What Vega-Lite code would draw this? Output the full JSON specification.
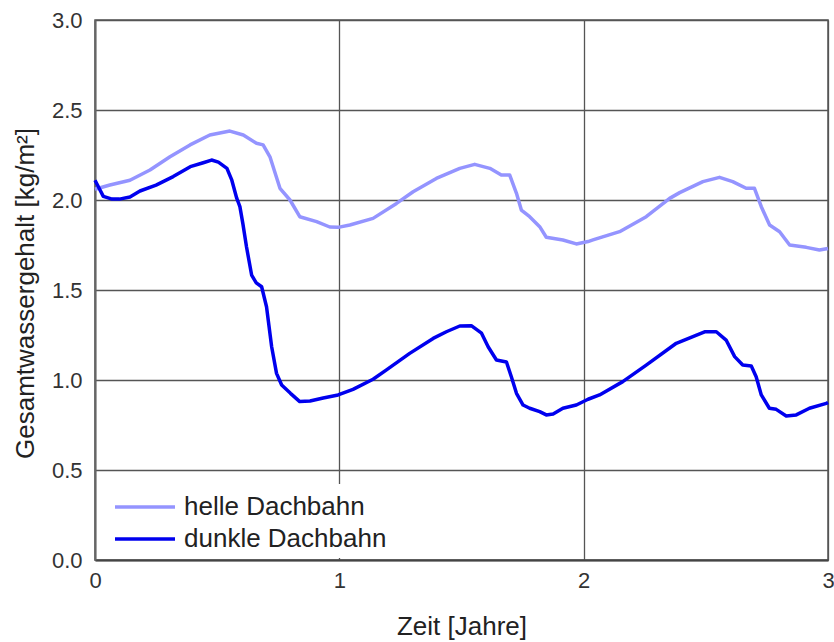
{
  "$schema": "https://vega.github.io/schema/vega-lite/v6.json",
  "autosize": {"type": "none"},
  "padding": {"left": 95, "top": 20, "right": 6, "bottom": 82},
  "width": 733,
  "height": 540,
  "background": "white",
  "config": {
    "font": "Liberation Sans",
    "view": {"stroke": "#555", "strokeWidth": 1.5},
    "axis": {"labelFont": "Liberation Sans", "titleFont": "Liberation Sans", "labelColor": "#333", "titleColor": "#222", "titleFontWeight": "normal", "gridColor": "#555", "gridWidth": 1.3, "gridOpacity": 1, "tickSize": 0, "domainColor": "#444", "domainWidth": 2},
    "legend": {"labelFont": "Liberation Sans"}
  },
  "data": {"values": [
    {"t": 0, "v": 2.06, "s": "helle Dachbahn"},
    {"t": 0.061, "v": 2.083, "s": "helle Dachbahn"},
    {"t": 0.143, "v": 2.11, "s": "helle Dachbahn"},
    {"t": 0.225, "v": 2.167, "s": "helle Dachbahn"},
    {"t": 0.307, "v": 2.24, "s": "helle Dachbahn"},
    {"t": 0.389, "v": 2.306, "s": "helle Dachbahn"},
    {"t": 0.47, "v": 2.361, "s": "helle Dachbahn"},
    {"t": 0.552, "v": 2.383, "s": "helle Dachbahn"},
    {"t": 0.607, "v": 2.361, "s": "helle Dachbahn"},
    {"t": 0.661, "v": 2.315, "s": "helle Dachbahn"},
    {"t": 0.688, "v": 2.306, "s": "helle Dachbahn"},
    {"t": 0.716, "v": 2.24, "s": "helle Dachbahn"},
    {"t": 0.757, "v": 2.065, "s": "helle Dachbahn"},
    {"t": 0.798, "v": 2.0, "s": "helle Dachbahn"},
    {"t": 0.838, "v": 1.907, "s": "helle Dachbahn"},
    {"t": 0.907, "v": 1.88, "s": "helle Dachbahn"},
    {"t": 0.961, "v": 1.85, "s": "helle Dachbahn"},
    {"t": 0.995, "v": 1.848, "s": "helle Dachbahn"},
    {"t": 1.043, "v": 1.861, "s": "helle Dachbahn"},
    {"t": 1.138, "v": 1.898, "s": "helle Dachbahn"},
    {"t": 1.234, "v": 1.981, "s": "helle Dachbahn"},
    {"t": 1.302, "v": 2.046, "s": "helle Dachbahn"},
    {"t": 1.397, "v": 2.12, "s": "helle Dachbahn"},
    {"t": 1.493, "v": 2.176, "s": "helle Dachbahn"},
    {"t": 1.554, "v": 2.198, "s": "helle Dachbahn"},
    {"t": 1.616, "v": 2.176, "s": "helle Dachbahn"},
    {"t": 1.663, "v": 2.139, "s": "helle Dachbahn"},
    {"t": 1.697, "v": 2.139, "s": "helle Dachbahn"},
    {"t": 1.725, "v": 2.037, "s": "helle Dachbahn"},
    {"t": 1.745, "v": 1.944, "s": "helle Dachbahn"},
    {"t": 1.779, "v": 1.907, "s": "helle Dachbahn"},
    {"t": 1.82, "v": 1.852, "s": "helle Dachbahn"},
    {"t": 1.847, "v": 1.793, "s": "helle Dachbahn"},
    {"t": 1.915, "v": 1.778, "s": "helle Dachbahn"},
    {"t": 1.97, "v": 1.756, "s": "helle Dachbahn"},
    {"t": 2.018, "v": 1.769, "s": "helle Dachbahn"},
    {"t": 2.038, "v": 1.778, "s": "helle Dachbahn"},
    {"t": 2.147, "v": 1.824, "s": "helle Dachbahn"},
    {"t": 2.256, "v": 1.907, "s": "helle Dachbahn"},
    {"t": 2.352, "v": 2.009, "s": "helle Dachbahn"},
    {"t": 2.393, "v": 2.041, "s": "helle Dachbahn"},
    {"t": 2.488, "v": 2.102, "s": "helle Dachbahn"},
    {"t": 2.556, "v": 2.126, "s": "helle Dachbahn"},
    {"t": 2.61, "v": 2.102, "s": "helle Dachbahn"},
    {"t": 2.665, "v": 2.065, "s": "helle Dachbahn"},
    {"t": 2.699, "v": 2.065, "s": "helle Dachbahn"},
    {"t": 2.727, "v": 1.963, "s": "helle Dachbahn"},
    {"t": 2.761, "v": 1.861, "s": "helle Dachbahn"},
    {"t": 2.802, "v": 1.824, "s": "helle Dachbahn"},
    {"t": 2.843, "v": 1.75, "s": "helle Dachbahn"},
    {"t": 2.911, "v": 1.737, "s": "helle Dachbahn"},
    {"t": 2.965, "v": 1.722, "s": "helle Dachbahn"},
    {"t": 3.0, "v": 1.731, "s": "helle Dachbahn"},
    {"t": 0, "v": 2.11, "s": "dunkle Dachbahn"},
    {"t": 0.034, "v": 2.02, "s": "dunkle Dachbahn"},
    {"t": 0.07, "v": 2.005, "s": "dunkle Dachbahn"},
    {"t": 0.10, "v": 2.005, "s": "dunkle Dachbahn"},
    {"t": 0.143, "v": 2.017, "s": "dunkle Dachbahn"},
    {"t": 0.184, "v": 2.05, "s": "dunkle Dachbahn"},
    {"t": 0.25, "v": 2.083, "s": "dunkle Dachbahn"},
    {"t": 0.32, "v": 2.13, "s": "dunkle Dachbahn"},
    {"t": 0.39, "v": 2.185, "s": "dunkle Dachbahn"},
    {"t": 0.443, "v": 2.207, "s": "dunkle Dachbahn"},
    {"t": 0.477, "v": 2.222, "s": "dunkle Dachbahn"},
    {"t": 0.505, "v": 2.21, "s": "dunkle Dachbahn"},
    {"t": 0.54, "v": 2.176, "s": "dunkle Dachbahn"},
    {"t": 0.56, "v": 2.11, "s": "dunkle Dachbahn"},
    {"t": 0.58, "v": 2.01, "s": "dunkle Dachbahn"},
    {"t": 0.593, "v": 1.963, "s": "dunkle Dachbahn"},
    {"t": 0.605, "v": 1.87, "s": "dunkle Dachbahn"},
    {"t": 0.62, "v": 1.74, "s": "dunkle Dachbahn"},
    {"t": 0.641, "v": 1.583, "s": "dunkle Dachbahn"},
    {"t": 0.66, "v": 1.54, "s": "dunkle Dachbahn"},
    {"t": 0.682, "v": 1.518, "s": "dunkle Dachbahn"},
    {"t": 0.702, "v": 1.407, "s": "dunkle Dachbahn"},
    {"t": 0.723, "v": 1.185, "s": "dunkle Dachbahn"},
    {"t": 0.743, "v": 1.037, "s": "dunkle Dachbahn"},
    {"t": 0.764, "v": 0.972, "s": "dunkle Dachbahn"},
    {"t": 0.80, "v": 0.926, "s": "dunkle Dachbahn"},
    {"t": 0.838, "v": 0.88, "s": "dunkle Dachbahn"},
    {"t": 0.88, "v": 0.883, "s": "dunkle Dachbahn"},
    {"t": 0.934, "v": 0.90, "s": "dunkle Dachbahn"},
    {"t": 0.995, "v": 0.917, "s": "dunkle Dachbahn"},
    {"t": 1.056, "v": 0.948, "s": "dunkle Dachbahn"},
    {"t": 1.138, "v": 1.004, "s": "dunkle Dachbahn"},
    {"t": 1.193, "v": 1.056, "s": "dunkle Dachbahn"},
    {"t": 1.288, "v": 1.148, "s": "dunkle Dachbahn"},
    {"t": 1.384, "v": 1.231, "s": "dunkle Dachbahn"},
    {"t": 1.438, "v": 1.268, "s": "dunkle Dachbahn"},
    {"t": 1.493, "v": 1.30, "s": "dunkle Dachbahn"},
    {"t": 1.54, "v": 1.302, "s": "dunkle Dachbahn"},
    {"t": 1.582, "v": 1.26, "s": "dunkle Dachbahn"},
    {"t": 1.609, "v": 1.185, "s": "dunkle Dachbahn"},
    {"t": 1.643, "v": 1.111, "s": "dunkle Dachbahn"},
    {"t": 1.684, "v": 1.10, "s": "dunkle Dachbahn"},
    {"t": 1.704, "v": 1.018, "s": "dunkle Dachbahn"},
    {"t": 1.725, "v": 0.926, "s": "dunkle Dachbahn"},
    {"t": 1.752, "v": 0.861, "s": "dunkle Dachbahn"},
    {"t": 1.779, "v": 0.843, "s": "dunkle Dachbahn"},
    {"t": 1.82, "v": 0.824, "s": "dunkle Dachbahn"},
    {"t": 1.847, "v": 0.806, "s": "dunkle Dachbahn"},
    {"t": 1.875, "v": 0.811, "s": "dunkle Dachbahn"},
    {"t": 1.915, "v": 0.843, "s": "dunkle Dachbahn"},
    {"t": 1.97, "v": 0.861, "s": "dunkle Dachbahn"},
    {"t": 2.018, "v": 0.893, "s": "dunkle Dachbahn"},
    {"t": 2.065, "v": 0.917, "s": "dunkle Dachbahn"},
    {"t": 2.16, "v": 0.991, "s": "dunkle Dachbahn"},
    {"t": 2.256, "v": 1.083, "s": "dunkle Dachbahn"},
    {"t": 2.379, "v": 1.204, "s": "dunkle Dachbahn"},
    {"t": 2.447, "v": 1.241, "s": "dunkle Dachbahn"},
    {"t": 2.495, "v": 1.268, "s": "dunkle Dachbahn"},
    {"t": 2.543, "v": 1.268, "s": "dunkle Dachbahn"},
    {"t": 2.583, "v": 1.222, "s": "dunkle Dachbahn"},
    {"t": 2.618, "v": 1.13, "s": "dunkle Dachbahn"},
    {"t": 2.651, "v": 1.083, "s": "dunkle Dachbahn"},
    {"t": 2.686, "v": 1.078, "s": "dunkle Dachbahn"},
    {"t": 2.706, "v": 1.018, "s": "dunkle Dachbahn"},
    {"t": 2.727, "v": 0.917, "s": "dunkle Dachbahn"},
    {"t": 2.76, "v": 0.843, "s": "dunkle Dachbahn"},
    {"t": 2.788, "v": 0.837, "s": "dunkle Dachbahn"},
    {"t": 2.829, "v": 0.80, "s": "dunkle Dachbahn"},
    {"t": 2.87, "v": 0.806, "s": "dunkle Dachbahn"},
    {"t": 2.924, "v": 0.843, "s": "dunkle Dachbahn"},
    {"t": 2.993, "v": 0.87, "s": "dunkle Dachbahn"},
    {"t": 3.0, "v": 0.875, "s": "dunkle Dachbahn"}
  ]},
  "mark": {"type": "line", "strokeWidth": 3.5, "strokeJoin": "round"},
  "encoding": {
    "x": {
      "field": "t", "type": "quantitative",
      "scale": {"domain": [0, 3], "nice": false},
      "axis": {"values": [0, 1, 2, 3], "format": "d", "labelFlush": false, "labelFontSize": 22, "labelPadding": 10, "title": "Zeit [Jahre]", "titleFontSize": 26, "titleBaseline": "alphabetic", "titleY": 74, "titleX": 366.5, "titleAnchor": "middle", "titleAlign": "center"}
    },
    "y": {
      "field": "v", "type": "quantitative",
      "scale": {"domain": [0, 3], "nice": false},
      "axis": {"values": [0, 0.5, 1, 1.5, 2, 2.5, 3], "format": ".1f", "labelFlush": false, "labelFontSize": 22, "labelPadding": 13, "title": "Gesamtwassergehalt [kg/m²]", "titleFontSize": 26, "titleAngle": -90, "titleBaseline": "alphabetic", "titleAlign": "center", "titleX": -62, "titleY": 273, "domainColor": "#666"}
    },
    "color": {
      "field": "s", "type": "nominal",
      "scale": {"domain": ["helle Dachbahn", "dunkle Dachbahn"], "range": ["#9494FF", "#0000EE"]},
      "legend": {"title": null, "orient": "none", "legendX": 14, "legendY": 464, "padding": 6, "fillColor": "white", "symbolType": "M-2,0H2", "symbolSize": 900, "symbolStrokeWidth": 3.5, "symbolFillColor": "transparent", "symbolOffset": 13, "labelFontSize": 26, "labelColor": "#222", "labelOffset": 22, "labelLimit": 500, "rowPadding": 2}
    }
  }
}
